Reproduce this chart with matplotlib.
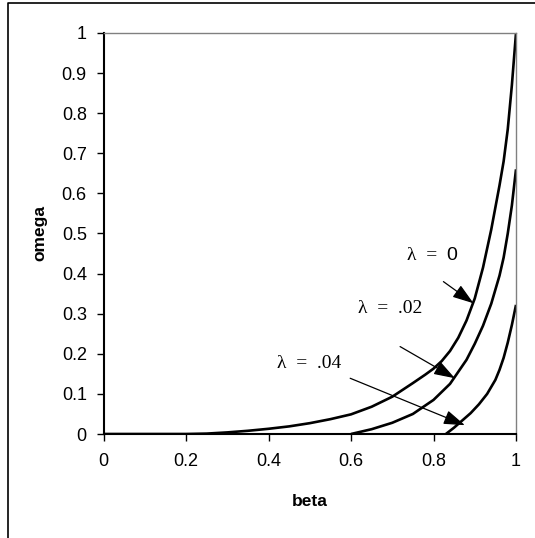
import numpy as np
import matplotlib
matplotlib.use('Agg')
import matplotlib.pyplot as plt
from matplotlib.lines import Line2D

# values
beta_l0 = [0.0, 0.2, 0.25, 0.3, 0.35, 0.4, 0.45, 0.5, 0.55, 0.6, 0.65, 0.7,
           0.75, 0.78, 0.8, 0.82, 0.84, 0.86, 0.88, 0.9, 0.92, 0.94, 0.96,
           0.97, 0.98, 0.99, 1.0]
omega_l0 = [0.0, 0.0, 0.001, 0.004, 0.008, 0.013, 0.019, 0.027, 0.037, 0.049,
            0.068, 0.093, 0.127, 0.148, 0.163, 0.182, 0.207, 0.24, 0.283,
            0.338, 0.415, 0.51, 0.62, 0.68, 0.76, 0.87, 1.0]

beta_l02 = [0.6, 0.65, 0.7, 0.75, 0.8, 0.84, 0.88, 0.9, 0.92, 0.94, 0.96,
            0.97, 0.98, 0.99, 1.0]
omega_l02 = [0.0, 0.012, 0.028, 0.05, 0.085, 0.125, 0.185, 0.225, 0.27,
             0.325, 0.395, 0.44, 0.5, 0.57, 0.66]

beta_l04 = [0.83, 0.85, 0.87, 0.89, 0.91, 0.93, 0.95, 0.96, 0.97, 0.98,
            0.99, 1.0]
omega_l04 = [0.0, 0.016, 0.034, 0.052, 0.074, 0.1, 0.135, 0.16, 0.19, 0.228,
             0.272, 0.322]

x_ticks = [0, 0.2, 0.4, 0.6, 0.8, 1]
x_labels = ['0', '0.2', '0.4', '0.6', '0.8', '1']
y_ticks = [0, 0.1, 0.2, 0.3, 0.4, 0.5, 0.6, 0.7, 0.8, 0.9, 1]
y_labels = ['0', '0.1', '0.2', '0.3', '0.4', '0.5', '0.6', '0.7', '0.8', '0.9', '1']

plt.rcParams['font.family'] = ['Liberation Sans', 'DejaVu Sans']

fig = plt.figure(figsize=(5.35, 5.38), dpi=100, facecolor='w')
ax = fig.add_axes([0.1935, 0.1933, 0.7710, 0.7454])

for b, o in [(beta_l0, omega_l0), (beta_l02, omega_l02), (beta_l04, omega_l04)]:
    ax.plot(b, o, color='black', lw=1.9, solid_capstyle='butt')

ax.set_xlim(0, 1)
ax.set_ylim(0, 1)
ax.set_xticks(x_ticks)
ax.set_xticklabels(x_labels)
ax.set_yticks(y_ticks)
ax.set_yticklabels(y_labels)
ax.tick_params(direction='out', length=5, width=1, labelsize=13, color='black')
ax.tick_params(axis='x', pad=9)
ax.tick_params(axis='y', pad=7)

ax.spines['left'].set_linewidth(1.5)
ax.spines['bottom'].set_linewidth(1.5)
ax.spines['top'].set_color('#808080')
ax.spines['right'].set_color('#808080')
ax.spines['top'].set_linewidth(1)
ax.spines['right'].set_linewidth(1)

ax.set_xlabel('beta', fontsize=12.5, fontweight='bold', labelpad=17)
ax.set_ylabel('omega', fontsize=12.5, fontweight='bold', labelpad=10)

# labels and arrows
serif = ['Liberation Serif', 'DejaVu Serif']
ax.text(0.735, 0.444, '\u03bb  =', fontsize=14, family=serif, va='center', ha='left')
ax.text(0.831, 0.444, '0', fontsize=14, va='center', ha='left')
ax.text(0.695, 0.314, '\u03bb  =  .02', fontsize=14, family=serif, va='center', ha='center')
ax.text(0.498, 0.177, '\u03bb  =  .04', fontsize=14, family=serif, va='center', ha='center')

arrows = [((0.824, 0.380), (0.897, 0.326)),
          ((0.719, 0.218), (0.852, 0.139)),
          ((0.598, 0.139), (0.876, 0.022))]
for start, end in arrows:
    ax.annotate('', xy=end, xytext=start,
                arrowprops=dict(arrowstyle='-|>,head_length=0.65,head_width=0.22',
                                mutation_scale=20, color='black', lw=0.9,
                                shrinkA=0, shrinkB=0))

# outer chart frame (cut off at right and bottom)
fx = 8 / 535
fy = 1 - 3 / 538
fig.add_artist(Line2D([fx, fx, 1.0], [0.0, fy, fy], color='black', lw=1.2,
                      transform=fig.transFigure))

fig.savefig('out.png', dpi=100)
